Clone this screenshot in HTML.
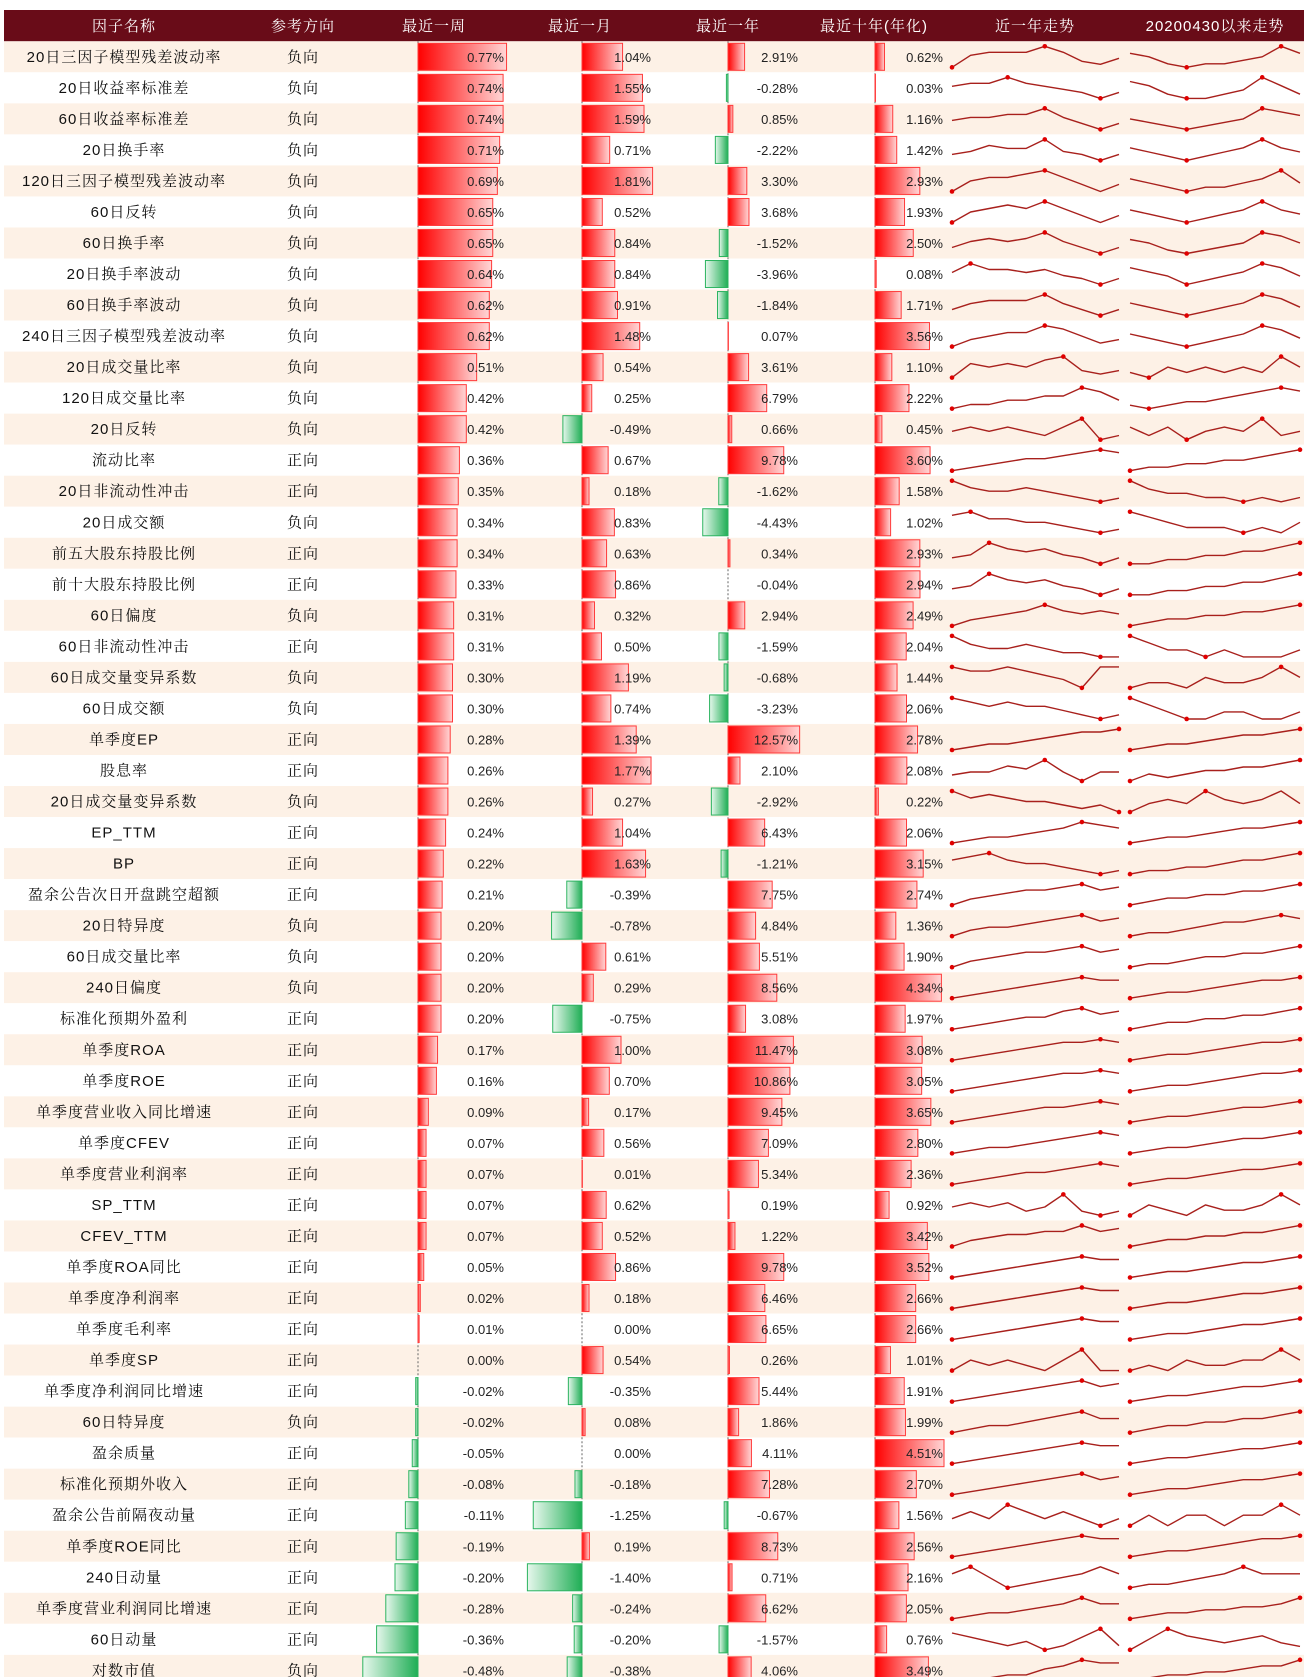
<!DOCTYPE html>
<html><head><meta charset="utf-8"><style>
html,body{margin:0;padding:0;background:#fff;width:1308px;height:1677px;overflow:hidden}
svg{display:block}
.nm{font-family:"Liberation Sans","Noto Serif CJK SC",serif;font-size:15px;fill:#111;letter-spacing:1px}
.num{font-family:"Liberation Sans",sans-serif;font-size:13px;fill:#222}
.hd{font-family:"Liberation Sans","Noto Serif CJK SC",serif;font-size:15px;fill:#fff;letter-spacing:1px}
</style></head><body>
<svg id="chart" width="1308" height="1677" xmlns="http://www.w3.org/2000/svg">
<defs>
<linearGradient id="gRed" x1="0" x2="1"><stop offset="0" stop-color="#ff0000"/><stop offset="1" stop-color="#ffd6d6"/></linearGradient>
<linearGradient id="gGreen" x1="0" x2="1"><stop offset="0" stop-color="#e6f7ec"/><stop offset="1" stop-color="#1fae55"/></linearGradient>
</defs>
</svg>
<script>
const names=["20日三因子模型残差波动率","20日收益率标准差","60日收益率标准差","20日换手率","120日三因子模型残差波动率","60日反转","60日换手率","20日换手率波动","60日换手率波动","240日三因子模型残差波动率","20日成交量比率","120日成交量比率","20日反转","流动比率","20日非流动性冲击","20日成交额","前五大股东持股比例","前十大股东持股比例","60日偏度","60日非流动性冲击","60日成交量变异系数","60日成交额","单季度EP","股息率","20日成交量变异系数","EP_TTM","BP","盈余公告次日开盘跳空超额","20日特异度","60日成交量比率","240日偏度","标准化预期外盈利","单季度ROA","单季度ROE","单季度营业收入同比增速","单季度CFEV","单季度营业利润率","SP_TTM","CFEV_TTM","单季度ROA同比","单季度净利润率","单季度毛利率","单季度SP","单季度净利润同比增速","60日特异度","盈余质量","标准化预期外收入","盈余公告前隔夜动量","单季度ROE同比","240日动量","单季度营业利润同比增速","60日动量","对数市值"];
const dirs=["负向","负向","负向","负向","负向","负向","负向","负向","负向","负向","负向","负向","负向","正向","正向","负向","正向","正向","负向","正向","负向","负向","正向","正向","负向","正向","正向","正向","负向","负向","负向","正向","正向","正向","正向","正向","正向","正向","正向","正向","正向","正向","正向","正向","负向","正向","正向","正向","正向","正向","正向","正向","负向"];
const week=[0.77,0.74,0.74,0.71,0.69,0.65,0.65,0.64,0.62,0.62,0.51,0.42,0.42,0.36,0.35,0.34,0.34,0.33,0.31,0.31,0.30,0.30,0.28,0.26,0.26,0.24,0.22,0.21,0.20,0.20,0.20,0.20,0.17,0.16,0.09,0.07,0.07,0.07,0.07,0.05,0.02,0.01,0.00,-0.02,-0.02,-0.05,-0.08,-0.11,-0.19,-0.20,-0.28,-0.36,-0.48];
const month=[1.04,1.55,1.59,0.71,1.81,0.52,0.84,0.84,0.91,1.48,0.54,0.25,-0.49,0.67,0.18,0.83,0.63,0.86,0.32,0.50,1.19,0.74,1.39,1.77,0.27,1.04,1.63,-0.39,-0.78,0.61,0.29,-0.75,1.00,0.70,0.17,0.56,0.01,0.62,0.52,0.86,0.18,0.00,0.54,-0.35,0.08,0.00,-0.18,-1.25,0.19,-1.40,-0.24,-0.20,-0.38];
const year=[2.91,-0.28,0.85,-2.22,3.30,3.68,-1.52,-3.96,-1.84,0.07,3.61,6.79,0.66,9.78,-1.62,-4.43,0.34,-0.04,2.94,-1.59,-0.68,-3.23,12.57,2.10,-2.92,6.43,-1.21,7.75,4.84,5.51,8.56,3.08,11.47,10.86,9.45,7.09,5.34,0.19,1.22,9.78,6.46,6.65,0.26,5.44,1.86,4.11,7.28,-0.67,8.73,0.71,6.62,-1.57,4.06];
const tenYear=[0.62,0.03,1.16,1.42,2.93,1.93,2.50,0.08,1.71,3.56,1.10,2.22,0.45,3.60,1.58,1.02,2.93,2.94,2.49,2.04,1.44,2.06,2.78,2.08,0.22,2.06,3.15,2.74,1.36,1.90,4.34,1.97,3.08,3.05,3.65,2.80,2.36,0.92,3.42,3.52,2.66,2.66,1.01,1.91,1.99,4.51,2.70,1.56,2.56,2.16,2.05,0.76,3.49];
const sparkYear=[
[1,5,6,6,6,8,6,3,2,4],[5,6,6,8,6,5,4,3,1,3],[4,5,5,6,6,8,5,3,1,3],[3,4,6,5,5,8,4,3,1,3],[2,5,6,6,7,8,6,4,2,4],
[2,5,6,7,6,8,6,4,2,4],[3,5,6,5,6,8,5,3,1,3],[5,8,6,6,5,6,4,3,1,3],[3,5,6,6,6,8,5,3,1,3],[2,4,5,6,6,8,7,5,3,4],
[2,6,5,6,5,7,8,4,3,4],[3,4,4,5,5,6,6,8,7,5],[5,6,5,6,5,4,6,8,3,4],[1,2,3,4,5,5,6,7,8,7],[8,6,5,5,6,5,4,3,2,3],
[7,8,6,6,5,5,4,3,2,3],[3,4,8,6,5,6,4,3,1,3],[3,4,8,6,5,6,4,3,1,3],[1,3,4,5,6,8,6,5,6,5],[8,6,5,5,6,5,4,4,3,3],
[6,5,5,6,5,4,3,1,6,6],[7,6,5,6,5,5,4,3,2,3],[1,2,3,3,4,5,6,7,7,8],[3,4,4,6,5,8,4,1,4,4],[8,6,7,6,5,5,4,3,4,2],
[1,2,3,3,4,5,6,8,7,6],[6,7,8,6,5,5,4,3,2,3],[1,3,4,5,6,6,7,8,6,7],[1,3,4,4,5,6,7,8,6,7],[1,3,4,5,6,6,7,8,6,7],
[1,2,3,4,5,6,7,8,7,7],[1,2,3,4,5,5,7,8,6,7],[1,2,3,4,5,6,7,7,8,7],[1,2,3,4,5,6,7,7,8,7],[1,2,3,4,5,6,6,7,8,7],
[1,2,3,3,4,5,6,7,8,7],[1,2,3,4,5,5,6,7,8,7],[5,6,5,6,4,5,8,4,3,4],[1,3,4,5,5,6,6,8,6,7],[1,2,3,4,5,6,7,8,7,7],
[1,2,3,4,5,6,7,8,7,7],[1,2,3,4,5,6,7,8,7,7],[4,6,5,6,5,4,6,8,4,4],[1,2,3,4,5,6,7,8,6,7],[2,3,4,4,5,6,7,8,6,6],
[1,2,3,4,5,6,7,8,7,7],[1,2,3,4,5,6,7,8,6,7],[5,6,5,7,6,5,6,5,4,5],[1,2,3,4,5,6,7,8,7,7],[6,8,5,2,3,4,5,6,8,6],
[1,2,3,3,4,5,6,8,6,6],[7,6,5,4,5,3,4,6,8,4],[1,2,2,3,3,5,6,8,7,7]];
const sparkSince=[
[6,5,3,2,3,3,4,5,8,6],[7,6,4,3,3,4,5,8,6,4],[5,4,3,2,3,4,5,8,7,6],[6,5,4,3,4,5,6,8,6,5],[6,5,4,3,4,4,5,6,8,5],
[6,5,4,3,4,5,6,8,6,5],[6,5,3,2,3,4,5,8,7,5],[7,6,5,3,4,5,6,8,7,5],[6,5,4,3,4,5,6,8,7,5],[6,5,4,3,4,5,6,8,7,5],
[5,4,6,5,6,5,6,5,8,6],[3,2,3,4,4,5,6,7,8,7],[6,4,6,3,5,6,5,8,4,5],[2,3,3,4,4,5,5,6,7,8],[8,6,5,5,4,4,3,4,3,4],
[7,6,5,4,4,4,3,4,3,5],[3,3,4,4,5,5,6,6,7,8],[3,3,4,4,5,5,6,6,7,8],[2,3,4,4,5,5,6,6,7,8],[7,6,5,5,4,5,4,4,4,5],
[4,5,5,4,6,5,5,6,8,6],[7,6,5,4,4,5,5,4,4,5],[1,2,3,3,4,5,6,6,7,8],[2,4,3,4,5,5,6,6,7,8],[3,5,6,5,8,6,5,6,8,5],
[1,2,3,3,4,5,6,6,7,8],[2,3,3,4,4,5,6,6,7,8],[2,3,4,4,5,5,6,6,7,8],[2,3,3,4,5,6,6,7,8,7],[2,3,3,4,5,5,6,6,7,8],
[1,2,3,3,4,5,6,7,7,8],[2,3,4,4,5,5,6,6,7,8],[1,2,3,3,4,5,6,7,7,8],[1,2,3,3,4,5,6,7,7,8],[1,2,3,3,4,5,6,6,7,8],
[1,2,3,3,4,5,6,6,7,8],[1,2,3,3,4,5,6,6,7,8],[4,6,5,4,6,5,5,6,8,6],[2,3,4,4,5,5,6,6,7,8],[1,2,3,3,4,5,6,6,7,8],
[1,2,3,3,4,5,6,6,7,8],[1,2,3,3,4,5,6,6,7,8],[4,5,4,6,5,5,6,6,8,6],[1,2,3,3,4,5,6,6,7,8],[2,3,4,4,5,5,6,6,7,8],
[1,2,3,3,4,5,6,6,7,8],[1,2,3,3,4,5,6,6,7,8],[4,5,4,5,5,4,5,5,6,5],[1,2,3,3,4,5,6,7,7,8],[2,3,3,4,5,6,8,6,6,6],
[1,2,3,3,4,4,5,5,6,8],[2,5,8,6,5,4,5,6,4,3],[1,2,3,3,4,4,5,6,6,8]];
const headers=["因子名称","参考方向","最近一周","最近一月","最近一年","最近十年(年化)","近一年走势","20200430以来走势"];
const headerX=[124,303,434,580,728,874,1035,1215];

const NS="http://www.w3.org/2000/svg";
const svg=document.getElementById('chart');
const TOP=41.3,RH=31.03;
function mk(tag,attrs,parent){const e=document.createElementNS(NS,tag);for(const k in attrs)e.setAttribute(k,attrs[k]);(parent||svg).appendChild(e);return e;}
const cols=[
 {data:week,axis:418,scale:115,tx:504,key:'week'},
 {data:month,axis:582,scale:39,tx:651,key:'month'},
 {data:year,axis:728,scale:5.7,tx:798,key:'year'},
 {data:tenYear,axis:875,scale:15.3,tx:943,key:'ten-year'}];
function rowY(i){return TOP+i*RH;}

const hb=mk('rect',{x:4,y:10,width:1300,height:31.3,fill:'#690c18'});


headers.forEach((h,j)=>{
 const t=mk('text',{x:headerX[j],y:31,'text-anchor':'middle',class:'hd'});
 t.textContent=h;
 
 
});
names.forEach((n,i)=>{
 const y=rowY(i);
 const bg=mk('rect',{x:4,y:y,width:1300,height:RH,fill:i%2===0?'#fdf1e6':'#ffffff'});
 
 
 const cy=y+RH/2+5;
 const t=mk('text',{x:124,y:cy,'text-anchor':'middle',class:'nm'});t.textContent=n;
 
 
 const d=mk('text',{x:303,y:cy,'text-anchor':'middle',class:'nm'});d.textContent=dirs[i];
 
 
});
cols.forEach(c=>{
 const l=mk('line',{x1:c.axis,x2:c.axis,y1:TOP,y2:1677,stroke:'#666','stroke-dasharray':'2,2','stroke-width':1});
 
 
});
cols.forEach(c=>{
 c.data.forEach((v,i)=>{
  const y=rowY(i);
  const w=Math.abs(v)*c.scale;
  if(w>0.3){
   const pos=v>=0;
   const r=mk('rect',{x:pos?c.axis:c.axis-w,y:y+2,width:w,height:RH-4,fill:pos?'url(#gRed)':'url(#gGreen)',stroke:pos?'#ff3b3b':'#2bb35f','stroke-width':1});
   
   
  }
  const t=mk('text',{x:c.tx,y:y+RH/2+5,'text-anchor':'end',class:'num'});
  t.textContent=v.toFixed(2)+'%';
  
  
 });
});
function spark(arr,i,x0,x1,key){
 const y=rowY(i);const top=y+5,bot=y+RH-5;
 const mn=Math.min(...arr),mx=Math.max(...arr);
 const sx=k=>x0+k*(x1-x0)/(arr.length-1);
 const sy=v=>bot-(v-mn)/((mx-mn)||1)*(bot-top);
 const pts=arr.map((v,k)=>sx(k).toFixed(1)+','+sy(v).toFixed(1)).join(' ');
 const p=mk('polyline',{points:pts,fill:'none',stroke:'#a8201c','stroke-width':1.4,'stroke-linejoin':'round'});
 
 
 const iMax=arr.indexOf(mx),iMin=arr.indexOf(mn);
 [iMax,iMin].forEach(k=>{
  const c=mk('circle',{cx:sx(k),cy:sy(arr[k]),r:2.3,fill:'#e00000'});
  
  
 });
}
sparkYear.forEach((a,i)=>spark(a,i,952,1119,'one-year'));
sparkSince.forEach((a,i)=>spark(a,i,1130,1300,'since-20200430'));
</script>
</body></html>
